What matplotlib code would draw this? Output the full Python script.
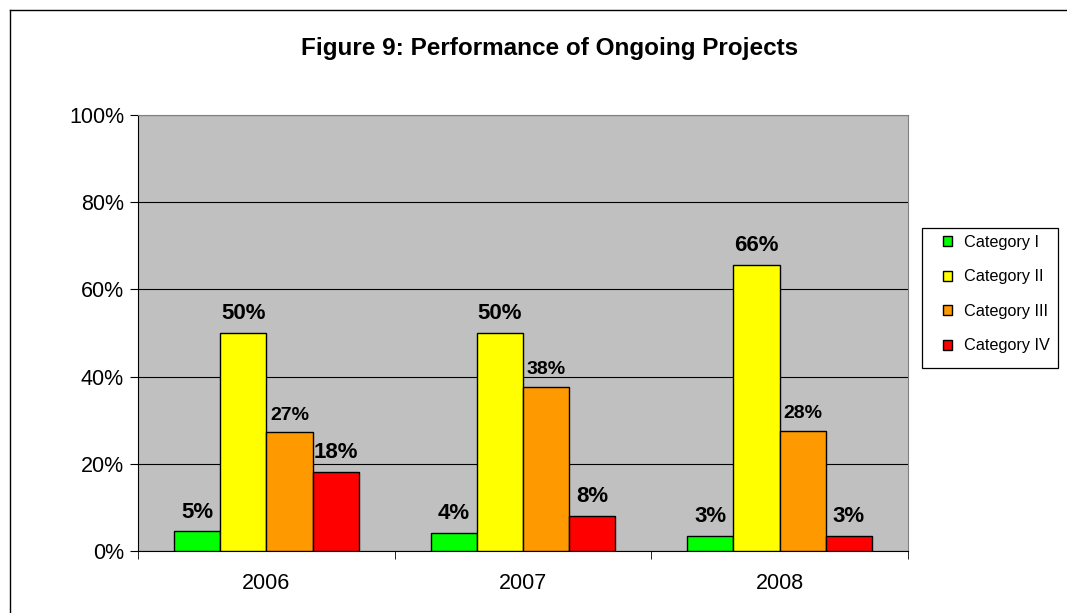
import numpy as np
import matplotlib.pyplot as plt
from matplotlib.lines import Line2D
from matplotlib.patches import Rectangle

plt.rcParams['font.family'] = ['Liberation Sans', 'DejaVu Sans']

years = ['2006', '2007', '2008']
categories = ['Category I', 'Category II', 'Category III', 'Category IV']
values = [
    [4.5, 4.2, 3.4],
    [50, 50, 65.7],
    [27.2, 37.6, 27.5],
    [18.2, 8.1, 3.5],
]
labels = [
    ['5%', '4%', '3%'],
    ['50%', '50%', '66%'],
    ['27%', '38%', '28%'],
    ['18%', '8%', '3%'],
]
colors = ['#00ff00', '#ffff00', '#ff9900', '#ff0000']
label_sizes = [16, 16, 14, 16]

W, H = 1067, 613
fig = plt.figure(figsize=(W / 100, H / 100), dpi=100)
ax = fig.add_axes([138 / W, 1 - 551 / H, 770 / W, 436 / H])
ax.set_facecolor('#c0c0c0')

x = np.arange(len(years))
w = 0.18
for i, cat in enumerate(categories):
    pos = x + (i - 1.5) * w
    ax.bar(pos, values[i], w, color=colors[i], edgecolor='black',
           linewidth=1.0, label=cat, zorder=3)
    for xp, v, t in zip(pos, values[i], labels[i]):
        ax.text(xp, v + 2.0, t, ha='center', va='bottom',
                fontsize=label_sizes[i], fontweight='bold', zorder=4)

ax.set_xlim(-0.5, 2.5)
ax.set_ylim(0, 100)
ax.set_yticks(np.arange(0, 101, 20))
ax.set_yticklabels([f'{v}%' for v in range(0, 101, 20)], fontsize=15.5)
ax.yaxis.grid(True, color='black', linewidth=0.8, zorder=1)
ax.set_axisbelow(True)

ax.set_xticks(x)
ax.set_xticklabels(years, fontsize=15.5)
ax.tick_params(axis='x', length=0, pad=16)
ax.set_xticks([-0.5, 0.5, 1.5, 2.5], minor=True)
ax.tick_params(axis='x', which='minor', length=6, direction='out')
ax.tick_params(axis='y', length=6, direction='out', pad=4)

for s in ['top', 'right']:
    ax.spines[s].set_color('#808080')
for s in ['left', 'bottom']:
    ax.spines[s].set_color('black')

# legend without its own frame; box drawn separately
leg = ax.legend(loc='upper left', bbox_to_anchor=(943 / W, 1 - 235 / H),
                bbox_transform=fig.transFigure, frameon=False,
                fontsize=11.7, borderpad=0, borderaxespad=0,
                handlelength=0.55, handleheight=0.55, handletextpad=0.75,
                labelspacing=1.2)
fig.add_artist(Rectangle((922 / W, 1 - 368 / H), 136 / W, 140 / H,
                         transform=fig.transFigure, fill=False,
                         edgecolor='black', linewidth=0.9))

fig.suptitle('Figure 9: Performance of Ongoing Projects', x=0.515, y=0.94,
             fontsize=17.5, fontweight='bold')

# outer chart border (left and top only)
fig.add_artist(Line2D([10 / W, 10 / W], [0, 1 - 10 / H],
                      transform=fig.transFigure, color='black', linewidth=1))
fig.add_artist(Line2D([10 / W, 1], [1 - 10 / H, 1 - 10 / H],
                      transform=fig.transFigure, color='black', linewidth=1))

fig.savefig('out.png', dpi=100)
